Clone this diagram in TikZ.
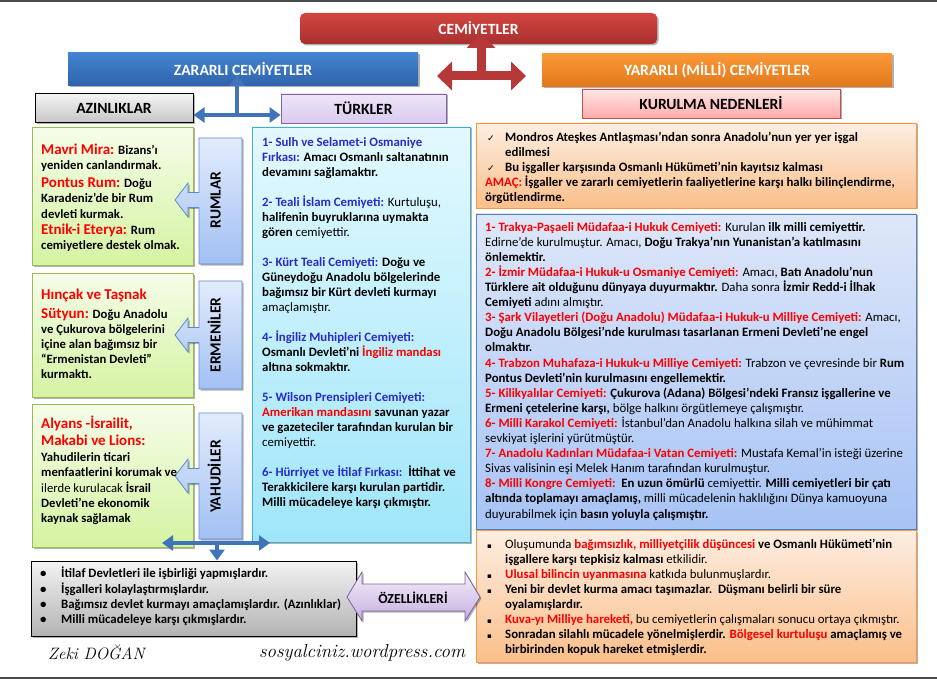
\documentclass[tikz,border=0pt]{standalone}
\usepackage{fontspec}
\newfontfamily\calibri{Carlito}
\newfontfamily\dejavu{DejaVu Sans}
\usetikzlibrary{arrows.meta,shadows}
\definecolor{redtxt}{HTML}{FF0000}
\definecolor{blutxt}{HTML}{2A2ACB}
\definecolor{barc}{HTML}{4A4A4A}
\definecolor{cemA}{HTML}{D24541}
\definecolor{cemB}{HTML}{A8302E}
\definecolor{zarA}{HTML}{4484D2}
\definecolor{zarB}{HTML}{2E63AA}
\definecolor{yarA}{HTML}{FB9836}
\definecolor{yarB}{HTML}{E0781C}
\definecolor{kurA}{HTML}{FFE8E8}
\definecolor{kurB}{HTML}{FFAAAA}
\definecolor{kurD}{HTML}{C0504D}
\definecolor{azA}{HTML}{F4F4F4}
\definecolor{azB}{HTML}{C4C4C4}
\definecolor{tuA}{HTML}{EDE5F7}
\definecolor{tuB}{HTML}{DACBEF}
\definecolor{tuD}{HTML}{8064A2}
\definecolor{grA}{HTML}{F5FDE9}
\definecolor{grB}{HTML}{D5F3A2}
\definecolor{grD}{HTML}{9BBB59}
\definecolor{clA}{HTML}{E2ECFD}
\definecolor{clB}{HTML}{A2C0F3}
\definecolor{clD}{HTML}{5F8ACB}
\definecolor{cyA}{HTML}{E2F9FE}
\definecolor{cyB}{HTML}{9FE6FA}
\definecolor{cyD}{HTML}{4BACC6}
\definecolor{orA}{HTML}{FDEEE2}
\definecolor{orB}{HTML}{FBBF8A}
\definecolor{orD}{HTML}{F79646}
\definecolor{blA}{HTML}{DEE7F9}
\definecolor{blB}{HTML}{A7C3F5}
\definecolor{blD}{HTML}{4F81BD}
\definecolor{gyA}{HTML}{F3F3F3}
\definecolor{gyB}{HTML}{B3B3B3}
\definecolor{ozA}{HTML}{F4EFFA}
\definecolor{ozB}{HTML}{C6AEE0}
\definecolor{arR}{HTML}{B63838}
\definecolor{arB}{HTML}{3F74B8}
\newcommand\myred[1]{{\color{redtxt}#1}}
\newcommand\myreg[1]{{\mdseries #1}}
\newcommand\myblu[1]{{\color{blutxt}#1}}
\newcommand\myhead[1]{{\fontsize{15}{15}\selectfont\color{redtxt}#1}}
\newcommand\mychk{\makebox[18pt][l]{\dejavu\mdseries\fontsize{9}{10}\selectfont ✓}}
\newcommand\mysq{\makebox[18pt][l]{\dejavu\fontsize{7}{10}\selectfont ▪}}
\newcommand\mydot{\makebox[21pt][l]{•}}
\newcommand\mycallout[3]{%
  \path[draw=clD, line width=0.8pt, top color=clA, bottom color=clB, shd]
  (242,#1) -- (242,#2) -- (199,#2) -- (199,#3+7.5) -- (188,#3+7.5) -- (188,#3+17)
  -- (175,#3) -- (188,#3-17) -- (188,#3-7.5) -- (199,#3-7.5) -- (199,#1) -- cycle;}
\tikzset{
  shd/.style={drop shadow={shadow xshift=1.5pt,shadow yshift=-1.5pt,opacity=0.3,fill=black}},
  hdr/.style={inner sep=0pt, shd, font=\calibri\bfseries\fontsize{15.6}{18}\selectfont},
  cbox/.style={inner sep=0pt, line width=0.8pt, shd},
  body/.style={anchor=north west, inner sep=0pt, align=left, font=\calibri\bfseries\fontsize{12.8}{15}\selectfont},
  gbody/.style={anchor=north west, inner sep=0pt, align=left, font=\calibri\bfseries\fontsize{12.7}{15.2}\selectfont},
  vtxt/.style={rotate=90, anchor=base, inner sep=0pt, font=\calibri\bfseries\fontsize{15.5}{18}\selectfont},
  barrow/.style={draw=arB, line width=4pt},
  btip/.tip={Triangle[width=15pt,length=11pt]},
  rarrow/.style={draw=arR, line width=9pt},
  rtip/.tip={Triangle[width=28pt,length=15pt]},
  sig/.style={anchor=base west, inner sep=0pt, font=\rmfamily\itshape\fontsize{#1}{20}\selectfont}
}
\begin{document}
\begin{tikzpicture}[x=1pt,y=-1pt]
\fill[white] (0,0) rectangle (937,679);
\useasboundingbox (0,0) rectangle (937,679);
\fill[barc] (0,0) rectangle (937,2.5);
\fill[barc] (0,676.5) rectangle (937,679);

% headers
\node[hdr, top color=cemA, bottom color=cemB, rounded corners=5pt, minimum width=357, minimum height=31, text=white] (cem) at (478.5,28.5) {CEMİYETLER};
\node[hdr, top color=zarA, bottom color=zarB, minimum width=350, minimum height=33, text=white] (zar) at (243,69.5) {ZARARLI CEMİYETLER};
\node[hdr, top color=yarA, bottom color=yarB, minimum width=350, minimum height=33, text=white] (yar) at (717,70.5) {YARARLI (MİLLİ) CEMİYETLER};
\node[hdr, draw=kurD, line width=0.8pt, top color=kurA, bottom color=kurB, minimum width=258, minimum height=29] (kur) at (711,103.5) {KURULMA NEDENLERİ};
\node[hdr, draw=black, line width=1pt, top color=azA, bottom color=azB, minimum width=158, minimum height=29] (azin) at (114,108.5) {AZINLIKLAR};
\node[hdr, draw=tuD, line width=0.8pt, top color=tuA, bottom color=tuB, minimum width=165, minimum height=29] (turk) at (363.5,108.5) {TÜRKLER};

% red arrows
\coordinate (rj) at (481,76);
\coordinate (rt) at (481,33);
\coordinate (rl) at (437,76);
\coordinate (rr) at (526,76);
\draw[rarrow, -{rtip}] (rj) -- (rt);
\draw[rarrow, {rtip}-{rtip}] (rl) -- (rr);

% blue arrows top
\coordinate (bj) at (237,115);
\coordinate (bt) at (237,75);
\draw[barrow, -{btip}] (bj) -- (bt);
\draw[barrow, {btip}-{btip}] (azin.east |- bj) -- (turk.west |- bj);

% content boxes
\node[cbox, draw=grD, top color=grA, bottom color=grB, minimum width=161, minimum height=138] (g1) at (112.5,196) {};
\node[cbox, draw=grD, top color=grA, bottom color=grB, minimum width=161, minimum height=124] (g2) at (112.5,335) {};
\node[cbox, draw=grD, top color=grA, bottom color=grB, minimum width=161, minimum height=143] (g3) at (112.5,475.5) {};
\node[cbox, draw=cyD, top color=cyA, bottom color=cyB, minimum width=218, minimum height=415] (cy) at (361,334.5) {};
\node[cbox, draw=orD, top color=orA, bottom color=orB, minimum width=440, minimum height=85] (or1) at (696,165.5) {};
\node[cbox, draw=blD, top color=blA, bottom color=blB, minimum width=440, minimum height=315] (bl) at (696,371.5) {};
\node[cbox, draw=orD, top color=orA, bottom color=orB, minimum width=440, minimum height=132] (or2) at (696,596) {};
\node[cbox, draw=black, line width=1pt, top color=gyA, bottom color=gyB, minimum width=325, minimum height=75] (gy) at (193.5,598.5) {};

% callouts
\mycallout{138}{264}{200}
\mycallout{281}{389}{335}
\mycallout{413}{539}{476}
\node[vtxt] (rum) at (220.5,200) {RUMLAR};
\node[vtxt] (erm) at (220.5,335) {ERMENİLER};
\node[vtxt] (yah) at (220.5,476.5) {YAHUDİLER};

% bottom blue arrows
\coordinate (bj2) at (217,543);
\coordinate (bl2) at (162,543);
\coordinate (br2) at (270,543);
\draw[barrow, {btip}-{btip}] (bl2) -- (br2);
\draw[barrow, -{btip}] (bj2) -- (gy.north -| bj2);

% ozellikleri arrow
\path[draw=tuD, line width=0.8pt, top color=ozA, bottom color=ozB, shd]
  (347,597) -- (362,572) -- (362,584) -- (465,584) -- (465,572) -- (480,597)
  -- (465,621) -- (465,611) -- (362,611) -- (362,621) -- cycle;
\node[inner sep=0pt, font=\calibri\bfseries\fontsize{13.8}{16}\selectfont] (ozl) at (413,598) {ÖZELLİKLERİ};

% green box texts
\node[gbody] (tg1) at (41,142.5) {\rule{0pt}{12pt}\myhead{Mavri Mira:} Bizans’ı\\
yeniden canlandırmak.\\[2.5pt]
\myhead{Pontus Rum:} Doğu\\
Karadeniz’de bir Rum\\
devleti kurmak.\\[1.5pt]
\myhead{Etnik-i Eterya:} Rum\\
cemiyetlere destek olmak.};
\node[gbody] (tg2) at (41,287) {\rule{0pt}{12pt}\myhead{Hınçak ve Taşnak}\\[3.7pt]
\myhead{Sütyun:} Doğu Anadolu\\
ve Çukurova bölgelerini\\
içine alan bağımsız bir\\
“Ermenistan Devleti”\\
kurmaktı.};
\node[gbody] (tg3) at (41,416) {\rule{0pt}{12pt}\myhead{Alyans -İsrailit,}\\[1.8pt]
\myhead{Makabi ve Lions:}\\[0.8pt]
Yahudilerin ticari\\
menfaatlerini korumak ve\\
\myreg{ilerde kurulacak} İsrail\\
Devleti’ne ekonomik\\
kaynak sağlamak};

% cyan text
\node[body, font=\calibri\bfseries\fontsize{12.8}{15.04}\selectfont] (tcy) at (262,135.5) {\strut\myblu{1- Sulh ve Selamet-i Osmaniye}\\
\myblu{Fırkası:} Amacı Osmanlı saltanatının\\
devamını sağlamaktır.\\[15pt]
\myblu{2- Teali İslam Cemiyeti:} \myreg{Kurtuluşu,}\\
halifenin buyruklarına uymakta\\
gören \myreg{cemiyettir.}\\[15pt]
\myblu{3- Kürt Teali Cemiyeti:} Doğu ve\\
Güneydoğu Anadolu bölgelerinde\\
bağımsız bir Kürt devleti kurmayı\\
\myreg{amaçlamıştır.}\\[15pt]
\myblu{4- İngiliz Muhipleri Cemiyeti:}\\
Osmanlı Devleti’ni \myred{İngiliz mandası}\\
altına sokmaktır.\\[15pt]
\myblu{5- Wilson Prensipleri Cemiyeti:}\\
\myred{Amerikan mandasını} savunan yazar\\
ve gazeteciler tarafından kurulan bir\\
\myreg{cemiyettir.}\\[15pt]
\myblu{6- Hürriyet ve İtilaf Fırkası:}\ \ İttihat ve\\
Terakkicilere karşı kurulan partidir.\\
Milli mücadeleye karşı çıkmıştır.};

% orange 1 text
\node[body] (tor1) at (487,130.5) {\strut\mychk Mondros Ateşkes Antlaşması’ndan sonra Anadolu’nun yer yer işgal\\
\hspace*{18pt}edilmesi\\
\mychk Bu işgaller karşısında Osmanlı Hükümeti’nin kayıtsız kalması\\
\hspace*{-2pt}\myred{AMAÇ:} İşgaller ve zararlı cemiyetlerin faaliyetlerine karşı halkı bilinçlendirme,\\
\hspace*{-2pt}örgütlendirme.};

% blue list text
\node[body, font=\calibri\bfseries\fontsize{12.8}{15.1}\selectfont] (tbl) at (485,220.4) {\strut\myred{1- Trakya-Paşaeli Müdafaa-i Hukuk Cemiyeti:} \myreg{Kurulan} ilk milli cemiyettir.\\
\myreg{Edirne’de kurulmuştur. Amacı,} Doğu Trakya’nın Yunanistan’a katılmasını\\
önlemektir.\\
\myred{2- İzmir Müdafaa-i Hukuk-u Osmaniye Cemiyeti:} \myreg{Amacı,} Batı Anadolu’nun\\
Türklere ait olduğunu dünyaya duyurmaktır. \myreg{Daha sonra} İzmir Redd-i İlhak\\
Cemiyeti \myreg{adını almıştır.}\\
\myred{3- Şark Vilayetleri (Doğu Anadolu) Müdafaa-i Hukuk-u Milliye Cemiyeti:} \myreg{Amacı,}\\
Doğu Anadolu Bölgesi’nde kurulması tasarlanan Ermeni Devleti’ne engel\\
olmaktır.\\
\myred{4- Trabzon Muhafaza-i Hukuk-u Milliye Cemiyeti:} \myreg{Trabzon ve çevresinde bir} Rum\\
Pontus Devleti’nin kurulmasını engellemektir.\\
\myred{5- Kilikyalılar Cemiyeti:} Çukurova (Adana) Bölgesi’ndeki Fransız işgallerine ve\\
Ermeni çetelerine karşı, \myreg{bölge halkını örgütlemeye çalışmıştır.}\\
\myred{6- Milli Karakol Cemiyeti:} \myreg{İstanbul’dan Anadolu halkına silah ve mühimmat}\\
\myreg{sevkiyat işlerini yürütmüştür.}\\
\myred{7- Anadolu Kadınları Müdafaa-i Vatan Cemiyeti:} \myreg{Mustafa Kemal’in isteği üzerine}\\
\myreg{Sivas valisinin eşi Melek Hanım tarafından kurulmuştur.}\\
\myred{8- Milli Kongre Cemiyeti:}\ \ En uzun ömürlü \myreg{cemiyettir.} Milli cemiyetleri bir çatı\\
altında toplamayı amaçlamış, \myreg{milli mücadelenin haklılığını Dünya kamuoyuna}\\
\myreg{duyurabilmek için} basın yoluyla çalışmıştır.};

% orange 2 text
\node[body] (tor2) at (487,537.5) {\strut\mysq\myreg{Oluşumunda} \myred{bağımsızlık, milliyetçilik düşüncesi} ve Osmanlı Hükümeti’nin\\
\hspace*{18pt}işgallere karşı tepkisiz kalması \myreg{etkilidir.}\\
\mysq\myred{Ulusal bilincin uyanmasına} \myreg{katkıda bulunmuşlardır.}\\
\mysq Yeni bir devlet kurma amacı taşımazlar.\ \ Düşmanı belirli bir süre\\
\hspace*{18pt}oyalamışlardır.\\
\mysq\myred{Kuva-yı Milliye hareketi,} \myreg{bu cemiyetlerin çalışmaları sonucu ortaya çıkmıştır.}\\
\mysq Sonradan silahlı mücadele yönelmişlerdir. \myred{Bölgesel kurtuluşu} amaçlamış ve\\
\hspace*{18pt}birbirinden kopuk hareket etmişlerdir.};

% gray text
\node[body] (tgy) at (40,566.5) {\strut\mydot İtilaf Devletleri ile işbirliği yapmışlardır.\\
\mydot İşgalleri kolaylaştırmışlardır.\\
\mydot Bağımsız devlet kurmayı amaçlamışlardır. (Azınlıklar)\\
\mydot Milli mücadeleye karşı çıkmışlardır.};

% signatures
\node[sig=16.5] (sig1) at (48,659) {Zeki DOĞAN};
\node[sig=18.8] (sig2) at (259,657) {sosyalciniz.wordpress.com};
\end{tikzpicture}
\end{document}
